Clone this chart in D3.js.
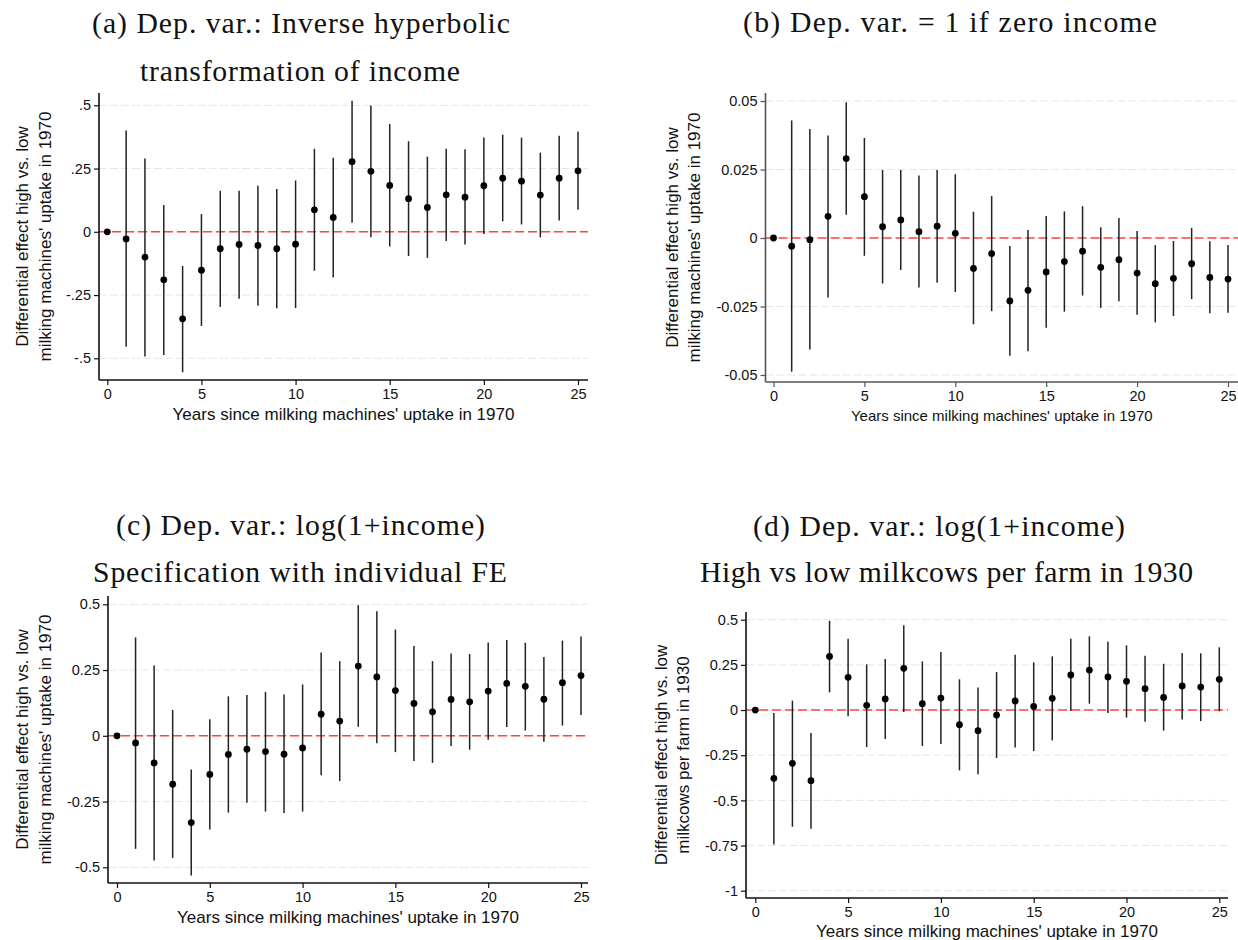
<!DOCTYPE html>
<html>
<head>
<meta charset="utf-8">
<script src="https://cdn.jsdelivr.net/npm/d3@7"></script>
<style>
	body { margin:0; background:#fff; }
	svg { display:block; }
</style>
</head>
<body>
<div id="chart"></div>
<script>

// years since uptake (x categories), same for all four panels
var years = [0,1,2,3,4,5,6,7,8,9,10,11,12,13,14,15,16,17,18,19,20,21,22,23,24,25];
var xTicks = [0,5,10,15,20,25];

// (a) inverse hyperbolic transformation of income
var a_coef = [0,-0.028,-0.100,-0.190,-0.344,-0.152,-0.067,-0.050,-0.054,-0.067,-0.049,0.087,0.057,0.277,0.239,0.183,0.131,0.096,0.146,0.137,0.182,0.212,0.200,0.145,0.212,0.241];
var a_lo   = [0,-0.454,-0.493,-0.487,-0.555,-0.372,-0.297,-0.265,-0.292,-0.302,-0.301,-0.154,-0.181,0.036,-0.022,-0.058,-0.096,-0.103,-0.036,-0.050,-0.009,0.041,0.029,-0.022,0.045,0.087];
var a_hi   = [0,0.400,0.290,0.106,-0.135,0.070,0.162,0.162,0.182,0.169,0.203,0.328,0.293,0.518,0.499,0.426,0.358,0.297,0.328,0.326,0.373,0.384,0.372,0.313,0.380,0.396];
var a_yTicks  = [-0.5,-0.25,0,0.25,0.5];
var a_yLabels = ["-.5","-.25","0",".25",".5"];

// (b) = 1 if zero income
var b_coef = [0,-0.0030,-0.0006,0.0079,0.0290,0.0151,0.0041,0.0066,0.0023,0.0043,0.0017,-0.0111,-0.0057,-0.0230,-0.0191,-0.0124,-0.0086,-0.0048,-0.0107,-0.0079,-0.0128,-0.0167,-0.0147,-0.0094,-0.0144,-0.0150];
var b_lo   = [0,-0.0488,-0.0407,-0.0217,0.0085,-0.0065,-0.0166,-0.0117,-0.0181,-0.0163,-0.0197,-0.0315,-0.0267,-0.0430,-0.0413,-0.0328,-0.0269,-0.0210,-0.0255,-0.0231,-0.0280,-0.0308,-0.0285,-0.0223,-0.0275,-0.0273];
var b_hi   = [0,0.0429,0.0398,0.0374,0.0495,0.0365,0.0248,0.0248,0.0228,0.0248,0.0233,0.0096,0.0153,-0.0029,0.0029,0.0080,0.0097,0.0116,0.0039,0.0073,0.0026,-0.0026,-0.0011,0.0037,-0.0012,-0.0026];
var b_yTicks  = [-0.05,-0.025,0,0.025,0.05];
var b_yLabels = ["-0.05","-0.025","0","0.025","0.05"];

// (c) log(1+income), individual FE
var c_coef = [0,-0.027,-0.103,-0.184,-0.330,-0.147,-0.071,-0.051,-0.060,-0.070,-0.046,0.082,0.056,0.265,0.224,0.172,0.123,0.091,0.138,0.129,0.170,0.199,0.188,0.139,0.202,0.229];
var c_lo   = [0,-0.430,-0.474,-0.464,-0.531,-0.356,-0.292,-0.255,-0.288,-0.294,-0.288,-0.150,-0.172,0.034,-0.028,-0.062,-0.096,-0.103,-0.039,-0.053,-0.015,0.033,0.020,-0.023,0.039,0.079];
var c_hi   = [0,0.374,0.267,0.098,-0.128,0.063,0.150,0.155,0.167,0.157,0.195,0.317,0.284,0.497,0.474,0.404,0.341,0.284,0.313,0.311,0.355,0.364,0.354,0.300,0.362,0.378];
var c_yTicks  = [-0.5,-0.25,0,0.25,0.5];
var c_yLabels = ["-0.5","-0.25","0","0.25","0.5"];

// (d) log(1+income), milkcows per farm 1930
var d_coef = [0,-0.378,-0.295,-0.391,0.297,0.181,0.026,0.061,0.231,0.035,0.066,-0.081,-0.114,-0.028,0.050,0.020,0.065,0.194,0.221,0.183,0.159,0.118,0.070,0.133,0.127,0.170];
var d_lo   = [0,-0.744,-0.646,-0.657,0.098,-0.035,-0.205,-0.161,-0.011,-0.199,-0.188,-0.334,-0.356,-0.266,-0.208,-0.227,-0.168,-0.006,0.035,-0.017,-0.042,-0.065,-0.114,-0.052,-0.061,-0.007];
var d_hi   = [0,-0.017,0.052,-0.127,0.494,0.395,0.253,0.282,0.469,0.269,0.321,0.170,0.125,0.210,0.306,0.264,0.297,0.395,0.408,0.378,0.358,0.301,0.256,0.315,0.314,0.347];
var d_yTicks  = [-1,-0.75,-0.5,-0.25,0,0.25,0.5];
var d_yLabels = ["-1","-0.75","-0.5","-0.25","0","0.25","0.5"];

// text
var xTitle = "Years since milking machines' uptake in 1970";
var yTitle1 = "Differential effect high vs. low";
var yTitle2_1970 = "milking machines' uptake in 1970";
var yTitle2_1930 = "milkcows per farm in 1930";


var width = 1238, height = 940;

var svg = d3.select("#chart").append("svg")
	.attr("width", width)
	.attr("height", height);


// panel layouts (pixels)
var panels = [
	{ coef:a_coef, lo:a_lo, hi:a_hi, yTicks:a_yTicks, yLabels:a_yLabels,
	  left:99, right:588, top:93, bottom:380, x0:107.3, x25:578, yLo:358.3, yHi:105.3,
	  titles:[ {t:"(a) Dep. var.: Inverse hyperbolic", x:301, y:33, w:418},
	           {t:"transformation of income", x:300, y:81, w:320} ],
	  yTitle2:yTitle2_1970, yt1:28, yt2:51, xtSize:17, axisColor:"#111" },
	{ coef:b_coef, lo:b_lo, hi:b_hi, yTicks:b_yTicks, yLabels:b_yLabels,
	  left:765.5, right:1238, top:93, bottom:382, x0:773.5, x25:1228, yLo:375, yHi:101,
	  titles:[ {t:"(b) Dep. var. = 1 if zero income", x:950, y:32, w:414} ],
	  yTitle2:yTitle2_1970, yt1:678, yt2:700, xtSize:15, axisColor:"#555" },
	{ coef:c_coef, lo:c_lo, hi:c_hi, yTicks:c_yTicks, yLabels:c_yLabels,
	  left:108, right:588, top:596, bottom:883, x0:117, x25:581, yLo:867.3, yHi:604.3,
	  titles:[ {t:"(c) Dep. var.: log(1+income)", x:300.5, y:535, w:369},
	           {t:"Specification with individual FE", x:300, y:582, w:414} ],
	  yTitle2:yTitle2_1970, yt1:28, yt2:51, xtSize:17, axisColor:"#111" },
	{ coef:d_coef, lo:d_lo, hi:d_hi, yTicks:d_yTicks, yLabels:d_yLabels,
	  left:746, right:1228, top:612, bottom:898, x0:755.3, x25:1219.3, yLo:890.7, yHi:619.7,
	  titles:[ {t:"(d) Dep. var.: log(1+income)", x:939, y:536, w:372},
	           {t:"High vs low milkcows per farm in 1930", x:946.5, y:582, w:493} ],
	  yTitle2:yTitle2_1930, yt1:667, yt2:689, xtSize:17, axisColor:"#111" }
];


function draw_panel(p){

	var x = d3.scaleLinear()
		.domain([0, 25])
		.range([p.x0, p.x25]);

	var y = d3.scaleLinear()
		.domain([p.yTicks[0], p.yTicks[p.yTicks.length-1]])
		.range([p.yLo, p.yHi]);

	var g = svg.append("g");

	// light dashed grid at every y tick
	g.selectAll("line.grid")
		.data(p.yTicks)
		.enter().append("line")
		.attr("class","grid")
		.attr("x1", p.left).attr("x2", p.right)
		.attr("y1", function(d){ return y(d); })
		.attr("y2", function(d){ return y(d); })
		.attr("stroke", "#e6e6e6")
		.attr("stroke-width", 1)
		.attr("stroke-dasharray", "8,3");

	// red reference line at 0
	g.append("line")
		.attr("x1", p.left).attr("x2", p.right)
		.attr("y1", y(0)).attr("y2", y(0))
		.attr("stroke", "#ff4545")
		.attr("stroke-width", 1.6)
		.attr("stroke-dasharray", "9,4");

	// confidence intervals
	g.selectAll("line.ci")
		.data(years)
		.enter().append("line")
		.attr("class","ci")
		.attr("x1", function(d){ return x(d); })
		.attr("x2", function(d){ return x(d); })
		.attr("y1", function(d,i){ return y(p.lo[i]); })
		.attr("y2", function(d,i){ return y(p.hi[i]); })
		.attr("stroke", "#222")
		.attr("stroke-width", 1.5);

	// point estimates
	g.selectAll("circle")
		.data(years)
		.enter().append("circle")
		.attr("cx", function(d){ return x(d); })
		.attr("cy", function(d,i){ return y(p.coef[i]); })
		.attr("r", 3.4)
		.attr("fill", "#000");

	// y axis
	var yAxis = d3.axisLeft(y)
		.tickValues(p.yTicks)
		.tickFormat(function(d,i){ return p.yLabels[i]; })
		.tickSize(5)
		.tickPadding(3);

	g.append("g")
		.attr("transform", "translate(" + p.left + ",0)")
		.call(yAxis)
		.call(function(s){ s.select(".domain").remove(); })
		.attr("font-family", "'Liberation Sans', Arial, sans-serif")
		.attr("font-size", 14.5)
		.call(function(s){
			s.selectAll("line").attr("stroke", p.axisColor).attr("stroke-width", 1.2);
			s.selectAll("text").attr("fill", "#111");
		});

	// x axis
	var xAxis = d3.axisBottom(x)
		.tickValues(xTicks)
		.tickSize(5)
		.tickPadding(4);

	g.append("g")
		.attr("transform", "translate(0," + p.bottom + ")")
		.call(xAxis)
		.call(function(s){ s.select(".domain").remove(); })
		.attr("font-family", "'Liberation Sans', Arial, sans-serif")
		.attr("font-size", 14.5)
		.call(function(s){
			s.selectAll("line").attr("stroke", p.axisColor).attr("stroke-width", 1.2);
			s.selectAll("text").attr("fill", "#111");
		});

	// axis frame lines (left + bottom)
	g.append("line")
		.attr("x1", p.left).attr("x2", p.left)
		.attr("y1", p.top).attr("y2", p.bottom)
		.attr("stroke", p.axisColor).attr("stroke-width", 1.6);
	g.append("line")
		.attr("x1", p.left).attr("x2", p.right)
		.attr("y1", p.bottom).attr("y2", p.bottom)
		.attr("stroke", p.axisColor).attr("stroke-width", 1.6);

	// x axis title (panel d is cut at the page bottom like the original)
	g.append("text")
		.attr("x", (p.left + p.right) / 2)
		.attr("y", Math.min(p.bottom + (p.xtSize == 15 ? 39 : 40), height - 3))
		.attr("text-anchor", "middle")
		.attr("font-family", "'Liberation Sans', Arial, sans-serif")
		.attr("font-size", p.xtSize)
		.attr("fill", "#111")
		.text(xTitle);

	// y axis title, two lines
	var yc = (p.top + p.bottom) / 2;
	[[p.yt1, yTitle1], [p.yt2, p.yTitle2]].forEach(function(l){
		g.append("text")
			.attr("transform", "translate(" + l[0] + "," + yc + ") rotate(-90)")
			.attr("text-anchor", "middle")
			.attr("font-family", "'Liberation Sans', Arial, sans-serif")
			.attr("font-size", 17)
			.attr("fill", "#111")
			.text(l[1]);
	});

	// panel titles (LaTeX style serif); grow the font toward the measured width,
	// then let textLength take up what is left
	p.titles.forEach(function(t){
		var txt = g.append("text")
			.attr("x", t.x)
			.attr("y", t.y)
			.attr("text-anchor", "middle")
			.attr("font-family", "'Liberation Serif', 'DejaVu Serif', serif")
			.attr("font-size", 27)
			.attr("fill", "#111")
			.text(t.t);
		var nat = txt.node().getComputedTextLength();
		var fs = 27 * Math.min(t.w / nat, 1.1);
		txt.attr("font-size", fs);
		nat = txt.node().getComputedTextLength();
		if (Math.abs(nat - t.w) > 2) {
			txt.attr("textLength", t.w).attr("lengthAdjust", "spacing");
		}
	});
}


panels.forEach(draw_panel);

</script>
</body>
</html>
